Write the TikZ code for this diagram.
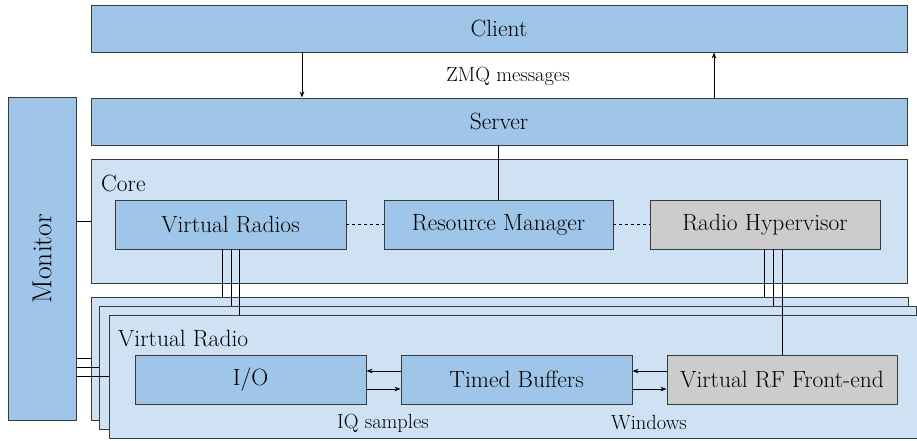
\documentclass[tikz,border=0pt]{standalone}
\usetikzlibrary{arrows.meta,calc}

\definecolor{boxblue}{HTML}{9FC5E8}
\definecolor{paneblue}{HTML}{CFE2F3}
\definecolor{boxgray}{HTML}{CCCCCC}
\definecolor{edge}{HTML}{3A3A3A}

\tikzset{
  blk/.style={draw=edge, line width=0.9pt, fill=boxblue, inner sep=0pt,
              font=\fontsize{23.5}{27}\selectfont},
  grayblk/.style={blk, fill=boxgray},
  pane/.style={draw=edge, line width=0.9pt, fill=paneblue, inner sep=0pt},
  wire/.style={draw=black, line width=0.8pt},
  lbl/.style={font=\fontsize{20.5}{24}\selectfont, inner sep=0pt},
  panetitle/.style={font=\fontsize{23.5}{27}\selectfont, inner sep=0pt, anchor=west},
  tip/.style={-{Stealth[length=6pt,width=4.5pt]}},
}

\newcommand{\boxat}[6]{% style, name, x1, y1, x2, y2, text
  \node[#1, minimum width=#5-#3, minimum height=#6-#4] (#2) at ({(#3+#5)/2},{(#4+#6)/2})}

\begin{document}
\begin{tikzpicture}[x=1pt, y=-1pt]
  \useasboundingbox (0,0) rectangle (917,441);
  \clip (0,0) rectangle (917,441);

  % top tiers
  \boxat{blk}{client}{91}{5}{907}{52} {Client};
  \boxat{blk}{server}{91}{98}{907}{145} {Server};
  \boxat{blk}{monitor}{8}{97}{76}{420} {};
  \node[lbl, font=\fontsize{27.5}{30}\selectfont, rotate=90] at (monitor.center) {Monitor};

  % core pane
  \boxat{pane}{core}{91}{159}{907}{283} {};
  \node[panetitle] at (101,183) {Core};
  \boxat{blk}{vrs}{115}{200}{346}{249} {Virtual Radios};
  \boxat{blk}{rm}{384}{200}{613}{249} {Resource Manager};
  \boxat{grayblk}{rh}{650}{200}{880}{249} {Radio Hypervisor};

  % stacked virtual radio panes
  \boxat{pane}{stackA}{91}{297}{908}{420} {};
  \boxat{pane}{stackB}{99}{306}{916}{429} {};
  \boxat{pane}{vr}{109}{315}{930}{438} {};
  \node[panetitle] at (118,339) {Virtual Radio};
  \boxat{blk}{io}{135}{355}{366}{404} {I/O};
  \boxat{blk}{tb}{401}{355}{632}{404} {Timed Buffers};
  \boxat{grayblk}{vrf}{667}{355}{897}{404} {Virtual RF Front-end};

  % client / server messages
  \draw[wire, tip] (client.south -| 302,0) -- (server.north -| 302,0);
  \draw[wire, tip] (server.north -| 714,0) -- (client.south -| 714,0);
  \node[lbl] at (508,76) {ZMQ messages};

  % server to resource manager
  \draw[wire] (server.south -| rm.north) -- (rm.north);

  % core internals
  \draw[wire, dashed] (vrs.east) -- (rm.west);
  \draw[wire, dashed] (rm.east) -- (rh.west);

  % monitor links
  \draw[wire] (monitor.east |- 0,221) -- (core.west |- 0,221);
  \draw[wire] (monitor.east |- 0,358) -- (stackA.west |- 0,358);
  \draw[wire] (monitor.east |- 0,367) -- (stackB.west |- 0,367);
  \draw[wire] (monitor.east |- 0,376) -- (vr.west |- 0,376);

  % virtual radios to radio panes
  \draw[wire] (vrs.south -| 222,0) -- (stackA.north -| 222,0);
  \draw[wire] (vrs.south -| 231,0) -- (stackB.north -| 231,0);
  \draw[wire] (vrs.south -| 239,0) -- (vr.north -| 239,0);

  % hypervisor to radio panes
  \draw[wire] (rh.south -| 764,0) -- (stackA.north -| 764,0);
  \draw[wire] (rh.south -| 773,0) -- (stackB.north -| 773,0);
  \draw[wire] (rh.south -| 782,0) -- (vrf.north -| 782,0);

  % sample flow inside a virtual radio
  \draw[wire, tip] (tb.west |- 0,371) -- (io.east |- 0,371);
  \draw[wire, tip] (io.east |- 0,389) -- (tb.west |- 0,389);
  \draw[wire, tip] (vrf.west |- 0,371) -- (tb.east |- 0,371);
  \draw[wire, tip] (tb.east |- 0,389) -- (vrf.west |- 0,389);
  \node[lbl] at (383,423) {IQ samples};
  \node[lbl] at (649,423) {Windows};
\end{tikzpicture}
\end{document}
